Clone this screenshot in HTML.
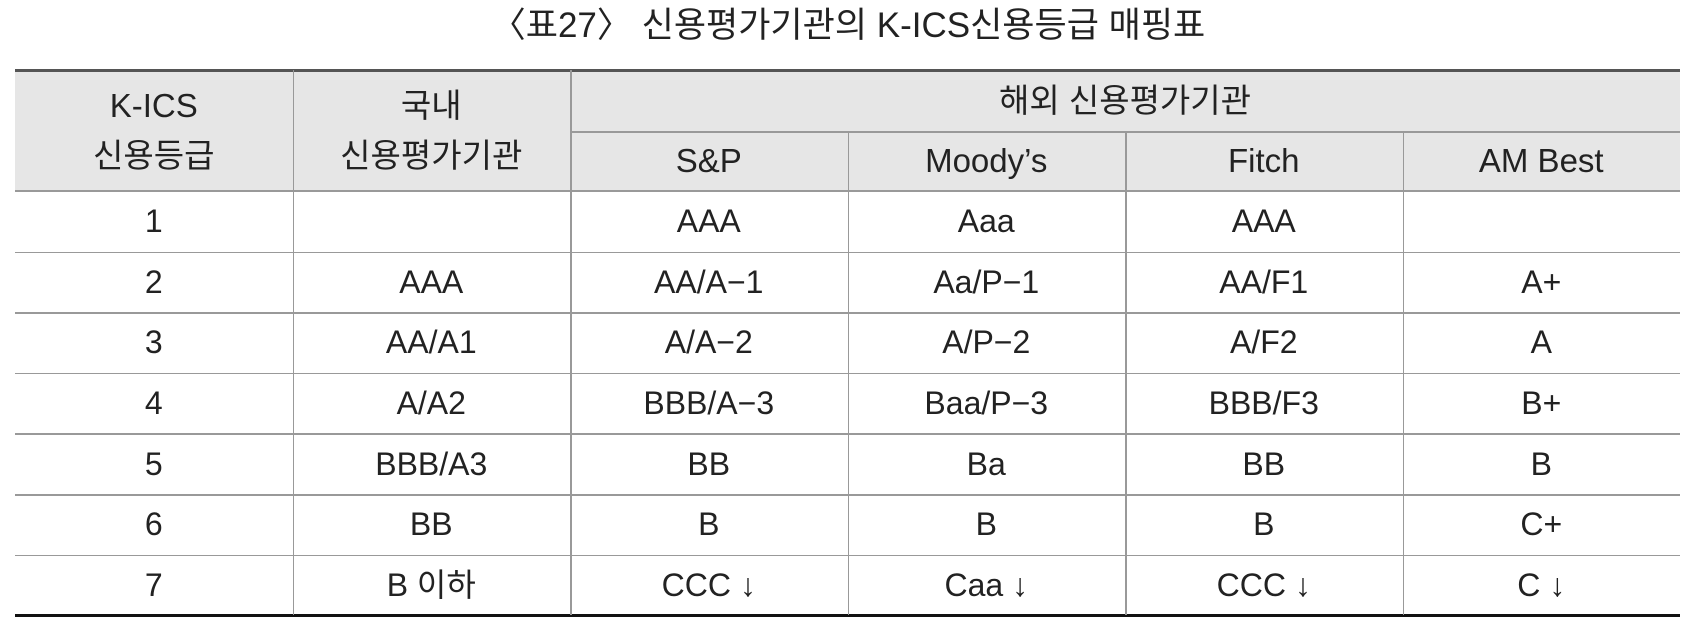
<!DOCTYPE html>
<html><head><meta charset="utf-8"><style>
body{margin:0;width:1696px;height:632px;background:#fff;position:relative;overflow:hidden;font-family:"Liberation Sans","Noto Sans CJK KR",sans-serif;color:#222}
.t{position:absolute;text-align:center;font-size:32px;line-height:34px;display:flex;align-items:center;justify-content:center}
.h{position:absolute;background:#999}
.big{font-size:34px}
</style></head><body>
<div class="t" style="left:0;top:5px;width:1696px;height:42px;font-size:35px;">〈표27〉 신용평가기관의 K-ICS신용등급 매핑표</div>
<div style="position:absolute;left:15px;top:70px;width:1665px;height:121px;background:#e6e6e6"></div>
<div id="grid"></div>
<script>
const L=15,W=277.5,T=70,H1=61,H2=60,R=60.6;
const rows=[["1","","AAA","Aaa","AAA",""],["2","AAA","AA/A−1","Aa/P−1","AA/F1","A+"],["3","AA/A1","A/A−2","A/P−2","A/F2","A"],["4","A/A2","BBB/A−3","Baa/P−3","BBB/F3","B+"],["5","BBB/A3","BB","Ba","BB","B"],["6","BB","B","B","B","C+"],["7","B 이하","CCC ↓","Caa ↓","CCC ↓","C ↓"]];
const g=document.getElementById('grid');
function cell(x,y,w,h,txt,name,lh){const d=document.createElement('div');d.className='t';d.style.cssText=`left:${x}px;top:${y}px;width:${w}px;height:${h}px`+(lh?`;line-height:${lh}px;font-size:33px`:'');d.innerHTML=txt;


g.appendChild(d);}
function line(x,y,w,h,c,name){const d=document.createElement('div');d.className='h';d.style.cssText=`left:${x}px;top:${y}px;width:${w}px;height:${h}px;background:${c}`;


g.appendChild(d);}
const hb=T+H1+H2;
cell(L,T,W,H1+H2,"K-ICS<br>신용등급","header-kics-grade",50);
cell(L+W,T,W,H1+H2,"국내<br>신용평가기관","header-domestic-agency",50);
cell(L+2*W,T,4*W,H1,"해외 신용평가기관","header-foreign-agency",34);
["S&amp;P","Moody’s","Fitch","AM Best"].forEach((s,i)=>cell(L+(2+i)*W,T+H1,W,H2,s,"header-agency-"+i,34));
rows.forEach((r,ri)=>r.forEach((v,ci)=>cell(L+ci*W,hb+ri*R,W,R,v,"cell-r"+(ri+1)+"-c"+ci)));
line(L,T-1,6*W,3,"#555","top-border");
line(L+2*W,T+H1,4*W,1.5,"#999","header-divider");
line(L,hb-1,6*W,2,"#999","header-bottom-line");
for(let i=1;i<7;i++)line(L,hb+i*R,6*W,1.5,"#999","row-line-"+i);
line(L,hb+7*R-1,6*W,3,"#111","bottom-border");
for(let c=1;c<6;c++)line(L+c*W,c>=3?T+H1:T,1.5,(c>=3?hb+7*R-T-H1:hb+7*R-T),"#999","col-line-"+c);
</script>
</body></html>
